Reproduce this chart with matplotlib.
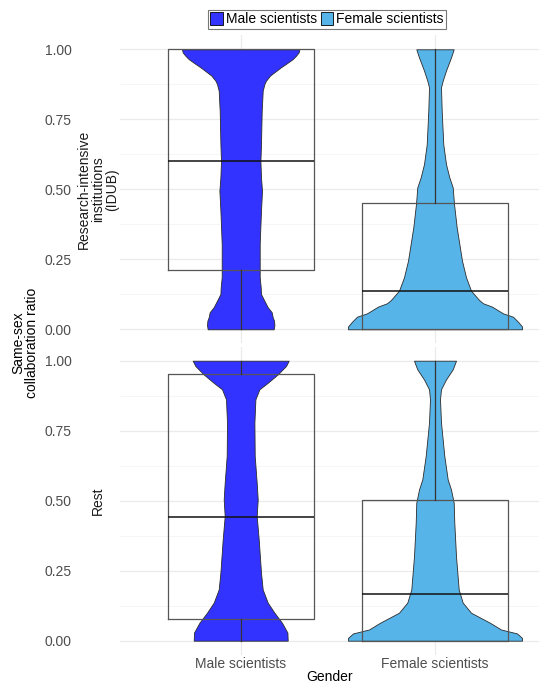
import matplotlib
matplotlib.use("Agg")
import matplotlib.pyplot as plt
from matplotlib.patches import Patch
from matplotlib.ticker import MultipleLocator

plt.rcParams['font.family'] = ['Liberation Sans', 'DejaVu Sans']

# ---------------- data ----------------
genders = ["Male scientists", "Female scientists"]
facets = ["Research-intensive\ninstitutions\n(IDUB)", "Rest"]
colors = ["#3333FF", "#56B4E9"]
y_ticks = [0.00, 0.25, 0.50, 0.75, 1.00]
y_tick_labels = ["0.00", "0.25", "0.50", "0.75", "1.00"]

# violin outlines: ratio levels and relative density (half-width)
male_idub_y = [0, 0.015, 0.031, 0.043, 0.061, 0.079, 0.102, 0.126, 0.15, 0.186, 0.305,
               0.424, 0.495, 0.543, 0.60, 0.662, 0.781, 0.829, 0.852, 0.876, 0.888,
               0.906, 0.918, 0.936, 0.948, 0.965, 0.977, 0.989, 1.0]
male_idub_d = [33, 33.7, 33.3, 32, 31, 27, 23.7, 20.3, 20, 19, 19,
               20.3, 21.3, 20.3, 19.7, 20.3, 21, 21.7, 22, 23.7, 25.3,
               29.3, 33.7, 40.3, 45.3, 52, 55.3, 58, 58.7]

female_idub_y = [0, 0.01, 0.027, 0.045, 0.057, 0.081, 0.093, 0.105, 0.138, 0.186, 0.245,
                 0.364, 0.448, 0.507, 0.543, 0.59, 0.66, 0.78, 0.864, 0.888, 0.924,
                 0.971, 1.0]
female_idub_d = [87, 87, 83, 78, 68, 57, 48, 44, 36, 31, 27,
                 21.7, 19, 17.7, 14.3, 11, 8.3, 6.7, 6, 7.7, 11,
                 16, 18.7]

male_rest_y = [0, 0.029, 0.064, 0.1, 0.136, 0.183, 0.243, 0.362, 0.445, 0.505, 0.564,
               0.66, 0.779, 0.862, 0.898, 0.921, 0.951, 0.981, 1.0]
male_rest_d = [47, 46.7, 41.3, 33.7, 27, 22, 20.3, 18, 16, 17, 16,
               14, 13.7, 14.7, 18.7, 27, 37, 45.3, 48]

female_rest_y = [0, 0.01, 0.026, 0.04, 0.064, 0.1, 0.136, 0.183, 0.302, 0.421, 0.493,
                 0.54, 0.576, 0.66, 0.779, 0.862, 0.898, 0.933, 0.969, 1.0]
female_rest_d = [87, 87, 82, 66, 55, 36, 27.7, 23.7, 21, 19.3, 18.7,
                 16, 12.7, 9.3, 6, 5, 6, 11, 17.7, 21]

# box statistics: q1, median, q3, lower whisker, upper whisker
male_idub_box = [0.21, 0.60, 1.00, 0.00, 1.00]
female_idub_box = [0.00, 0.136, 0.45, 0.00, 1.00]
male_rest_box = [0.079, 0.443, 0.951, 0.00, 1.00]
female_rest_box = [0.00, 0.168, 0.502, 0.00, 1.00]

violins = [[(male_idub_y, male_idub_d), (female_idub_y, female_idub_d)],
           [(male_rest_y, male_rest_d), (female_rest_y, female_rest_d)]]
boxes = [[male_idub_box, female_idub_box], [male_rest_box, female_rest_box]]

# ---------------- figure ----------------
W, H = 539, 683
fig = plt.figure(figsize=(W / 100, H / 100), dpi=100)

px_per_unit = 194.3
left_px = 120
panels_px = [(35.3, 343.3), (346.7, 654.7)]
positions = [1, 2]

for r, (top, bot) in enumerate(panels_px):
    ax = fig.add_axes([left_px / W, 1 - bot / H, 1 - left_px / W, (bot - top) / H])
    ax.set_xlim(1 - (240.7 - left_px) / px_per_unit, 2 + (W - 435) / px_per_unit)
    ax.set_ylim(-0.05, 1.05)
    for s in ax.spines.values():
        s.set_visible(False)
    ax.yaxis.set_minor_locator(MultipleLocator(0.125))
    ax.set_yticks(y_ticks)
    ax.set_yticklabels(y_tick_labels)
    ax.grid(True, which='major', color='#EBEBEB', lw=0.9, zorder=0)
    ax.grid(True, which='minor', axis='y', color='#F3F3F3', lw=0.5, zorder=0)
    ax.set_axisbelow(True)
    ax.tick_params(axis='both', which='both', length=0, labelsize=10, colors='#4D4D4D')
    ax.tick_params(axis='y', pad=35)
    ax.tick_params(axis='x', pad=2)
    ax.set_xticks(positions)
    if r == 1:
        ax.set_xticklabels(genders)
    else:
        ax.set_xticklabels([])

    for i, (yy, dd) in enumerate(violins[r]):
        hw = [d / px_per_unit for d in dd]
        c = positions[i]
        ax.fill_betweenx(yy, [c - h for h in hw], [c + h for h in hw],
                         facecolor=colors[i], edgecolor='#2b2b2b', lw=0.6, zorder=2)

    stats = []
    for b in boxes[r]:
        stats.append(dict(q1=b[0], med=b[1], q3=b[2], whislo=b[3], whishi=b[4], fliers=[]))
    ax.bxp(stats, positions=positions, widths=0.75, showfliers=False, showcaps=False,
           manage_ticks=False,
           boxprops=dict(color='#555555', lw=0.9),
           whiskerprops=dict(color='#333333', lw=0.9),
           medianprops=dict(color='#111111', lw=1.1), zorder=3)
    for art in ax.lines:
        art.set_zorder(3)

    fig.text(98 / W, 1 - (top + bot) / 2 / H, facets[r], rotation=90,
             ha='center', va='center', fontsize=10, color='#1a1a1a', linespacing=1.0)

fig.text(25 / W, 1 - 343 / H, "Same-sex\ncollaboration ratio", rotation=90,
         ha='center', va='center', fontsize=10, color='black', linespacing=1.0)
fig.text(330 / W, 1 - 677 / H, "Gender", ha='center', va='center', fontsize=10, color='black')

handles = [Patch(facecolor=colors[0], edgecolor='black', lw=0.6),
           Patch(facecolor=colors[1], edgecolor='black', lw=0.6)]
leg = fig.legend(handles, genders, loc='center', bbox_to_anchor=(327 / W, 1 - 19.3 / H),
                 ncol=2, fontsize=10, frameon=True, fancybox=False, edgecolor='#555555',
                 handlelength=0.9, handleheight=1.1, handletextpad=0.2, columnspacing=0.3,
                 borderpad=0.15, borderaxespad=0)
leg.get_frame().set_linewidth(0.8)

fig.savefig("out.png", dpi=100)
